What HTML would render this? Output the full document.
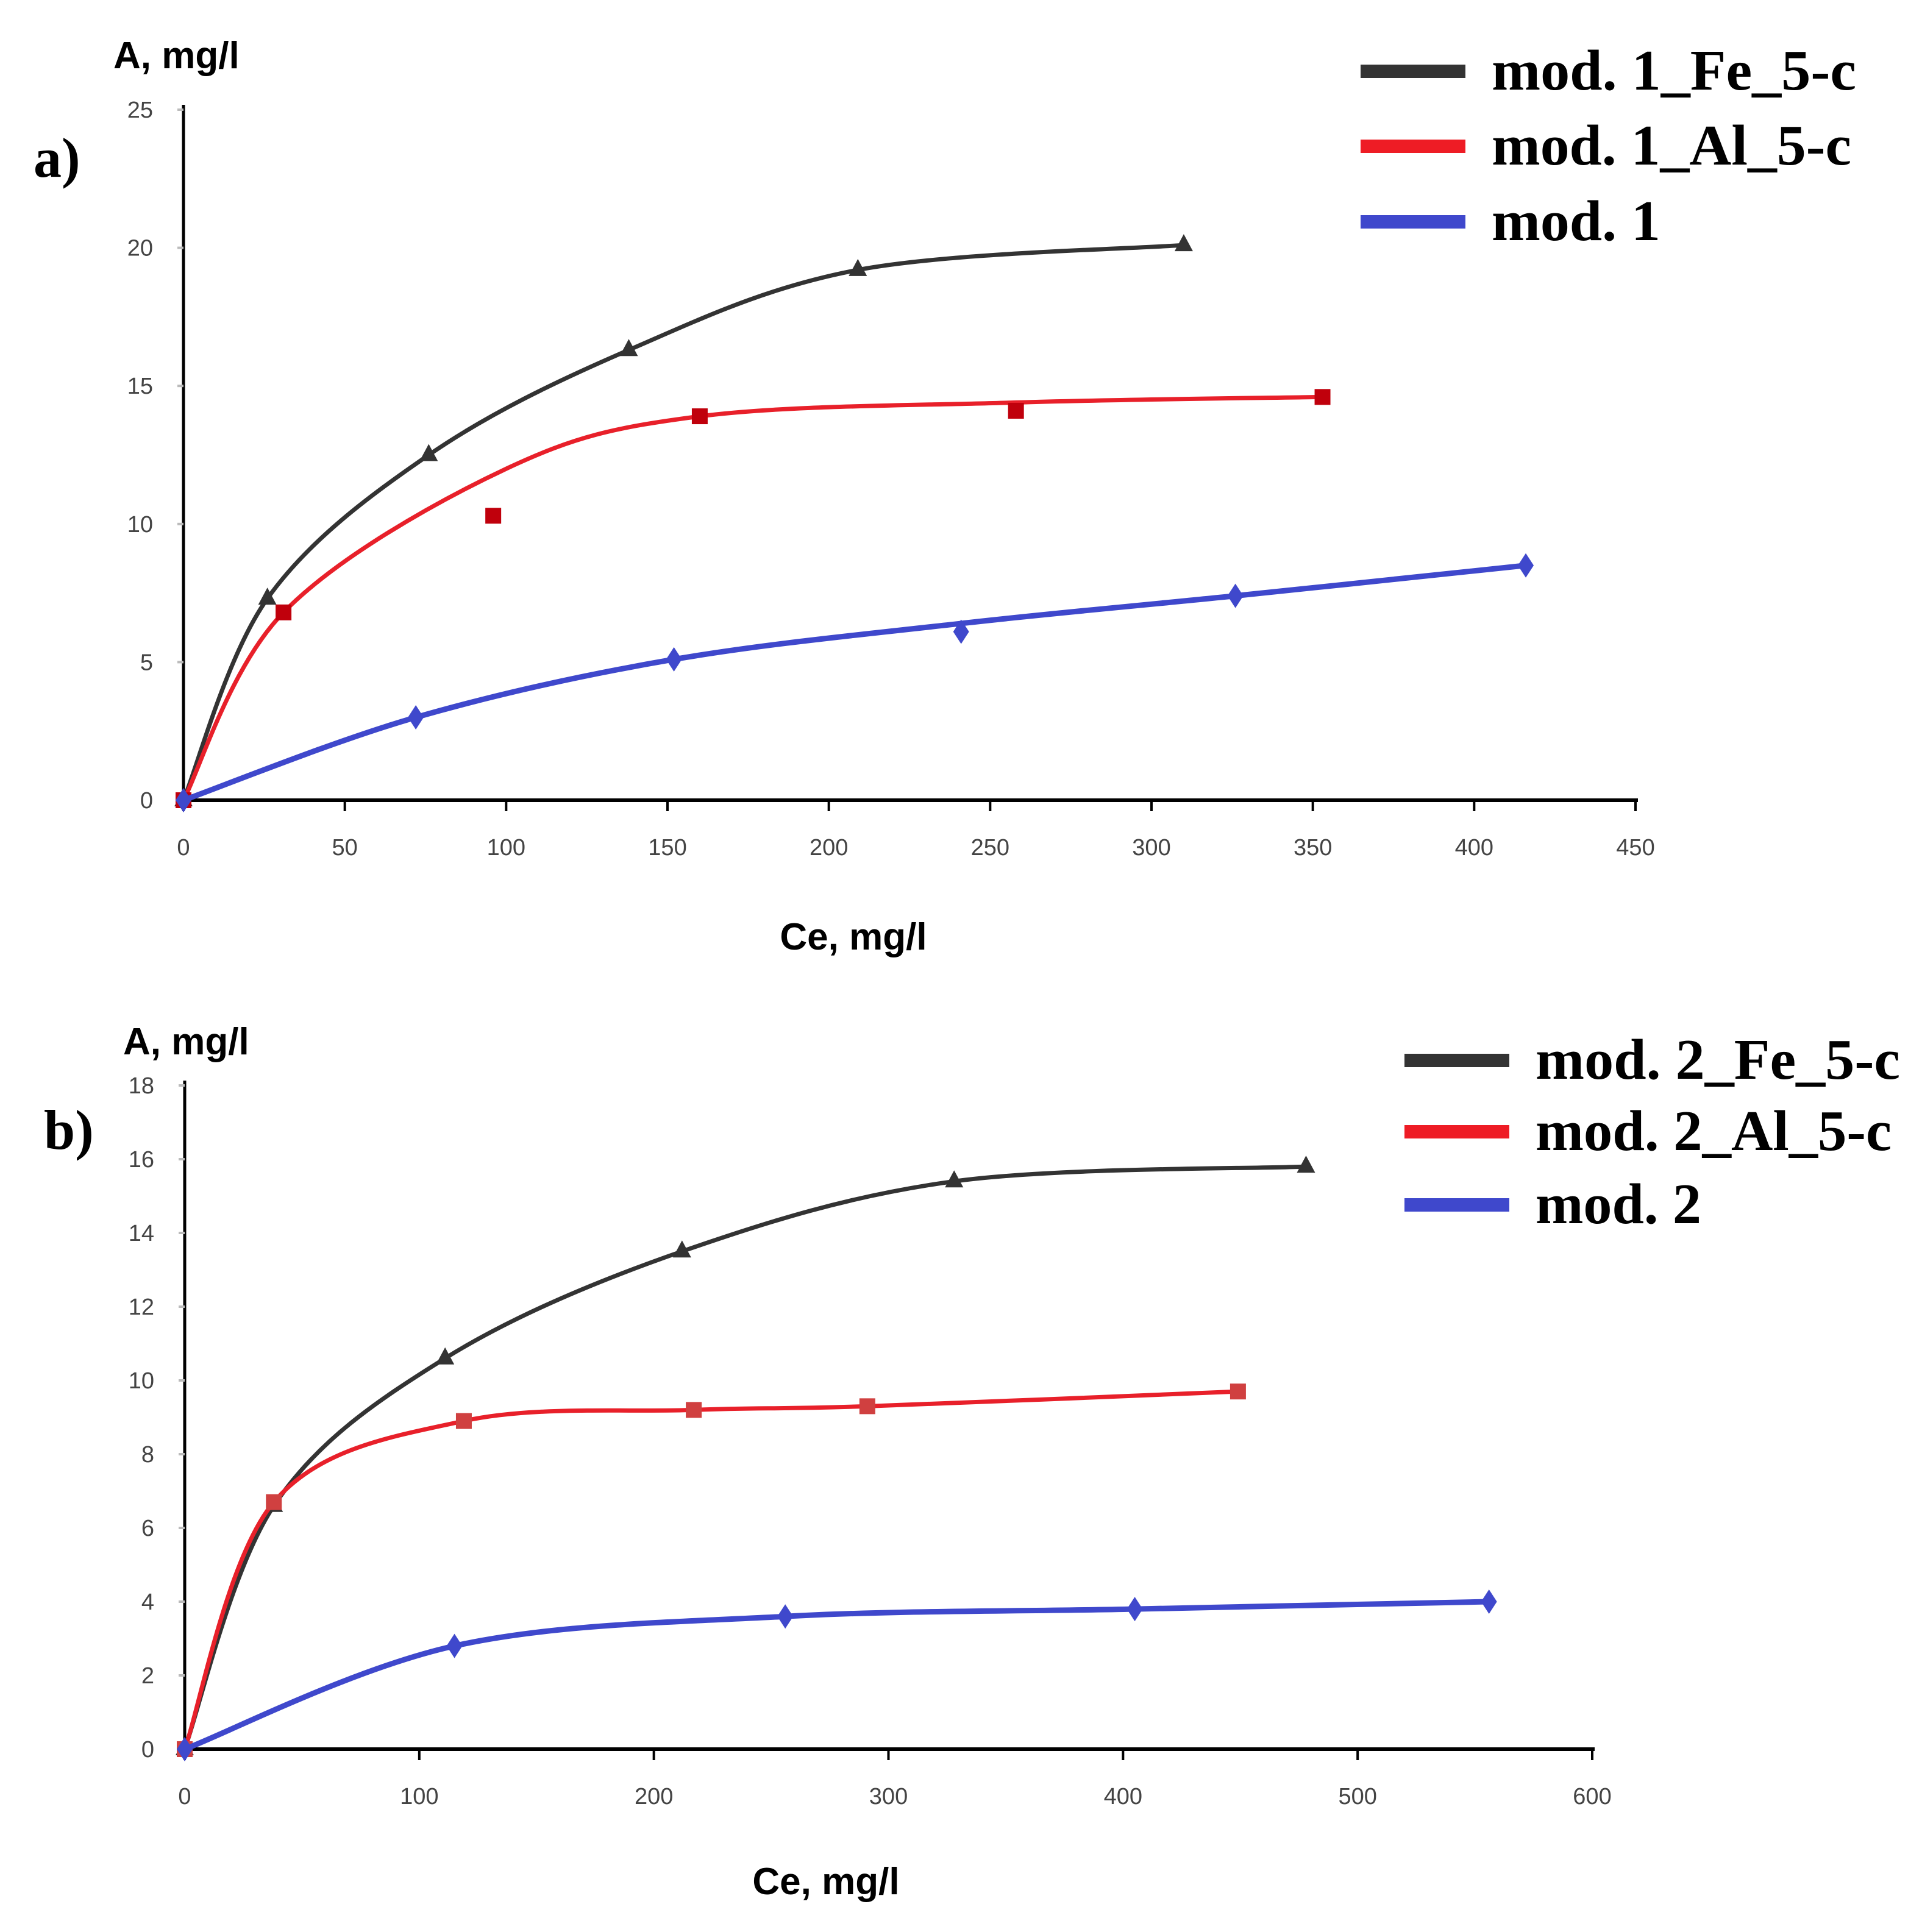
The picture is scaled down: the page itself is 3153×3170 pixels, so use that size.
<!DOCTYPE html>
<html><head><meta charset="utf-8"><style>
html,body{margin:0;padding:0;background:#fff}
svg{display:block}
.tick{font-family:"Liberation Sans Narrow","Liberation Sans",sans-serif;font-size:38px;fill:#444}
.ttl{font-family:"Liberation Sans",sans-serif;font-weight:bold;font-size:62px;fill:#000}
.leg{font-family:"Liberation Serif",serif;font-weight:bold;font-size:94px;fill:#000}
.pl{font-family:"Liberation Serif",serif;font-weight:bold;font-size:92px;fill:#000}
</style></head><body>
<svg id="chart" width="3153" height="3170" viewBox="0 0 3153 3170" xmlns="http://www.w3.org/2000/svg">
<g id="pa"></g>
<g id="pb"></g>
</svg>
<script>
// Panel a data
const aXTicks=[0,50,100,150,200,250,300,350,400,450];
const aYTicks=[0,5,10,15,20,25];
const aFeX=[0,26,76,138,209,310];
const aFeY=[0,7.3,12.5,16.3,19.2,20.1];
const aAlX=[0,31,96,160,258,353];
const aAlY=[0,6.8,10.3,13.9,14.1,14.6];
const aAlFitX=[0,31,100,160,258,353];
const aAlFitY=[0,6.8,12.0,13.9,14.4,14.6];
const aBlX=[0,72,152,241,326,416];
const aBlY=[0,3.0,5.1,6.1,7.4,8.5];
const aBlFitY=[0,3.0,5.1,6.4,7.4,8.5];
// Panel b data
const bXTicks=[0,100,200,300,400,500,600];
const bYTicks=[0,2,4,6,8,10,12,14,16,18];
const bFeX=[0,38,111,212,328,478];
const bFeY=[0,6.6,10.6,13.5,15.4,15.8];
const bAlX=[0,38,119,217,291,449];
const bAlY=[0,6.7,8.9,9.2,9.3,9.7];
const bBlX=[0,115,256,405,556];
const bBlY=[0,2.8,3.6,3.8,4.0];

const NS="http://www.w3.org/2000/svg";
function mk(parent,tag,attrs){const e=document.createElementNS(NS,tag);for(const k in attrs)e.setAttribute(k,attrs[k]);parent.appendChild(e);return e;}
function smooth(pts){let d="M"+pts[0][0]+","+pts[0][1];for(let i=0;i<pts.length-1;i++){const p0=pts[i-1]||pts[i],p1=pts[i],p2=pts[i+1],p3=pts[i+2]||p2;const c1x=p1[0]+(p2[0]-p0[0])/6,c1y=p1[1]+(p2[1]-p0[1])/6,c2x=p2[0]-(p3[0]-p1[0])/6,c2y=p2[1]-(p3[1]-p1[1])/6;d+=" C"+c1x+","+c1y+" "+c2x+","+c2y+" "+p2[0]+","+p2[1];}return d;}
function marker(g,shape,x,y,color){let e;
 if(shape==="tri"){e=mk(g,"polygon",{points:(x)+","+(y-18)+" "+(x-15)+","+(y+10)+" "+(x+15)+","+(y+10),fill:color});}
 else if(shape==="sq"){e=mk(g,"rect",{x:x-13,y:y-13,width:26,height:26,fill:color});}
 else {e=mk(g,"polygon",{points:x+","+(y-20)+" "+(x+13)+","+y+" "+x+","+(y+20)+" "+(x-13)+","+y,fill:color});}
 
 
}
function panel(g,cfg){
 const sx=v=>cfg.x0+(v-cfg.xmin)/(cfg.xmax-cfg.xmin)*(cfg.x1-cfg.x0);
 const sy=v=>cfg.y0-(v/cfg.ymax)*(cfg.y0-cfg.y1);
 const ax=mk(g,"line",{x1:cfg.x0,y1:cfg.y1-8,x2:cfg.x0,y2:cfg.y0,stroke:"#000","stroke-width":5});
 
 
 const bx=mk(g,"line",{x1:cfg.x0,y1:cfg.y0,x2:cfg.x1+4,y2:cfg.y0,stroke:"#000","stroke-width":6});
 
 
 cfg.yt.forEach(v=>{const y=sy(v);mk(g,"line",{x1:cfg.x0-10,y1:y,x2:cfg.x0,y2:y,stroke:"#bbb","stroke-width":4});
  const t=mk(g,"text",{x:cfg.x0-50,y:y+13,"text-anchor":"end",class:"tick"});t.textContent=v;
  
  });
 cfg.xt.forEach(v=>{const x=sx(v);mk(g,"line",{x1:x,y1:cfg.y0,x2:x,y2:cfg.y0+18,stroke:"#000","stroke-width":4});
  const t=mk(g,"text",{x:x,y:cfg.y0+90,"text-anchor":"middle",class:"tick"});t.textContent=v;
  
  });
 cfg.series.forEach(s=>{
  const pts=s.fx.map((v,i)=>[sx(v),sy(s.fy[i])]);
  const p=mk(g,"path",{d:smooth(pts),fill:"none",stroke:s.c,"stroke-width":s.w});
  
  
  s.x.forEach((v,i)=>marker(g,s.m,sx(v),sy(s.y[i]),s.mc));
 });
 const yl=mk(g,"text",{x:cfg.ylx,y:cfg.yly,class:"ttl"});yl.textContent="A, mg/l";
 
 
 const xl=mk(g,"text",{x:cfg.xlx,y:cfg.xly,class:"ttl","text-anchor":"middle"});xl.textContent="Ce, mg/l";
 
 
 const pl=mk(g,"text",{x:cfg.plx,y:cfg.ply,class:"pl"});pl.textContent=cfg.pl;
 
 
 cfg.leg.forEach((l,i)=>{const y=cfg.legY[i];
  const ln=mk(g,"rect",{x:cfg.legX,y:y-11,width:172,height:22,fill:l[1]});
  
  
  const t=mk(g,"text",{x:cfg.legX+215,y:y+30,class:"leg",textLength:l[2],lengthAdjust:"spacingAndGlyphs"});t.textContent=l[0];
  
  });
}
panel(document.getElementById("pa"),{x0:301,x1:2683,xmin:0,xmax:450,y0:1313,y1:180,ymax:25,xt:aXTicks,yt:aYTicks,
 series:[
  {name:"mod1-fe",fx:aFeX,fy:aFeY,x:aFeX,y:aFeY,c:"#333",w:7,m:"tri",mc:"#333"},
  {name:"mod1-al",fx:aAlFitX,fy:aAlFitY,x:aAlX,y:aAlY,c:"#e8202a",w:7,m:"sq",mc:"#c0000c"},
  {name:"mod1",fx:aBlX,fy:aBlFitY,x:aBlX,y:aBlY,c:"#3f48cc",w:9,m:"dia",mc:"#3f48cc"}],
 ylx:186,yly:112,xlx:1400,xly:1558,plx:55,ply:290,pl:"a)",
 legX:2232,legY:[117,240,364],leg:[["mod. 1_Fe_5-c","#333",598],["mod. 1_Al_5-c","#ee1c25",590],["mod. 1","#3f48cc",277]]});
panel(document.getElementById("pb"),{x0:303,x1:2612,xmin:0,xmax:600,y0:2870,y1:1781,ymax:18,xt:bXTicks,yt:bYTicks,
 series:[
  {name:"mod2-fe",fx:bFeX,fy:bFeY,x:bFeX,y:bFeY,c:"#333",w:7,m:"tri",mc:"#333"},
  {name:"mod2-al",fx:bAlX,fy:bAlY,x:bAlX,y:bAlY,c:"#e8202a",w:7,m:"sq",mc:"#d04040"},
  {name:"mod2",fx:bBlX,fy:bBlY,x:bBlX,y:bBlY,c:"#3f48cc",w:9,m:"dia",mc:"#3f48cc"}],
 ylx:202,yly:1730,xlx:1355,xly:3108,plx:72,ply:1885,pl:"b)",
 legX:2304,legY:[1740,1857,1977],leg:[["mod. 2_Fe_5-c","#333",598],["mod. 2_Al_5-c","#ee1c25",584],["mod. 2","#3f48cc",272]]});
</script>
</body></html>
